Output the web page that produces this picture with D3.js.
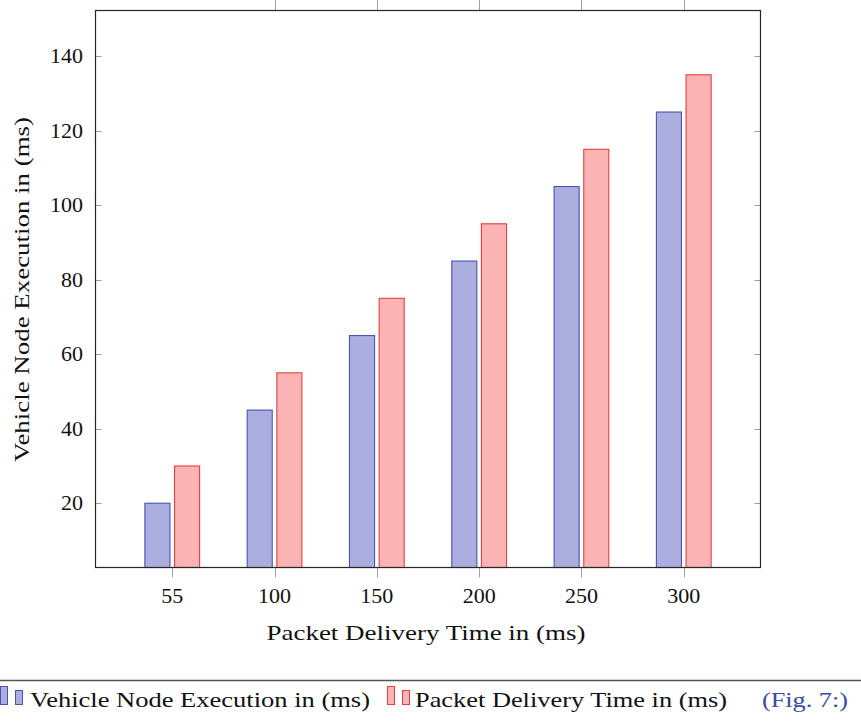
<!DOCTYPE html>
<html>
<head>
<meta charset="utf-8">
<script src="https://cdn.jsdelivr.net/npm/d3@7"></script>
<style>
  html, body { margin: 0; padding: 0; background: #fff; }
  svg { display: block; }
  svg text { font-family: "Liberation Serif", "DejaVu Serif", serif; fill: #111; }
</style>
</head>
<body>
<svg id="chart" width="861" height="721"></svg>
<script>
// ---- data ----
const categories = ["55", "100", "150", "200", "250", "300"];
const vehicleExec = [20, 45, 65, 85, 105, 125];
const packetDelivery = [30, 55, 75, 95, 115, 135];
const yTicks = [20, 40, 60, 80, 100, 120, 140];
const seriesNames = ["Vehicle Node Execution in (ms)", "Packet Delivery Time in (ms)"];
const xTitle = "Packet Delivery Time in (ms)";
const yTitle = "Vehicle Node Execution in (ms)";
const figLabel = "(Fig. 7:)";

// ---- layout ----
const W = 861, H = 721;
const plot = { left: 95.5, right: 760.5, top: 10.5, bottom: 567.5 };
const colors = {
  blueFill: "#adaee0", blueStroke: "#4654b4",
  redFill: "#fbb3b3", redStroke: "#e5403d",
  tick: "#a0a0a0", frame: "#262626", fig: "#3b4aa6"
};

const svg = d3.select("#chart");

const x = d3.scaleLinear().domain([-0.75, categories.length - 0.25]).range([plot.left, plot.right]);
const y = d3.scaleLinear().domain([2.75, 152.25]).range([plot.bottom, plot.top]);

const step = x(1) - x(0);
const barW = step * 0.245;
const gap = step * 0.045;

// bars
const g = svg.append("g");
const series = [
  { vals: vehicleExec, fill: colors.blueFill, stroke: colors.blueStroke, off: -gap / 2 - barW },
  { vals: packetDelivery, fill: colors.redFill, stroke: colors.redStroke, off: gap / 2 }
];
series.forEach(s => {
  g.selectAll(null).data(s.vals).enter().append("rect")
    .attr("x", (d, i) => x(i) + s.off)
    .attr("y", d => y(d))
    .attr("width", barW)
    .attr("height", d => y(y.domain()[0]) - y(d))
    .attr("fill", s.fill)
    .attr("stroke", s.stroke)
    .attr("stroke-width", 1.1);
});

// ticks (y inside left/right)
const tg = svg.append("g").attr("stroke", colors.tick).attr("stroke-width", 1);
yTicks.forEach(t => {
  const yy = Math.round(y(t)) + 0.5;
  tg.append("line").attr("x1", plot.left).attr("x2", plot.left + 6).attr("y1", yy).attr("y2", yy);
  tg.append("line").attr("x1", plot.right - 6).attr("x2", plot.right).attr("y1", yy).attr("y2", yy);
});
// x ticks bottom (outside) and top (outside, from second category)
categories.forEach((c, i) => {
  const xx = Math.round(x(i)) + 0.5;
  tg.append("line").attr("x1", xx).attr("x2", xx).attr("y1", plot.bottom).attr("y2", plot.bottom + 10);
  if (i > 0) tg.append("line").attr("x1", xx).attr("x2", xx).attr("y1", plot.top - 12).attr("y2", plot.top);
});

// frame
svg.append("rect")
  .attr("x", plot.left).attr("y", plot.top)
  .attr("width", plot.right - plot.left).attr("height", plot.bottom - plot.top)
  .attr("fill", "none").attr("stroke", colors.frame).attr("stroke-width", 1.2);

// tick labels
const fs = 21;
function numLabel(sel, w) {
  return sel.attr("font-size", fs).attr("textLength", w).attr("lengthAdjust", "spacingAndGlyphs");
}
svg.append("g").selectAll("text").data(yTicks).enter().append("text")
  .attr("x", 83).attr("y", d => y(d) + 7)
  .attr("text-anchor", "end")
  .each(function(d) { numLabel(d3.select(this), String(d).length * 11); })
  .text(d => d);
svg.append("g").selectAll("text").data(categories).enter().append("text")
  .attr("x", (d, i) => x(i)).attr("y", 603)
  .attr("text-anchor", "middle")
  .each(function(d) { numLabel(d3.select(this), d.length * 11); })
  .text(d => d);

// axis titles
svg.append("text")
  .attr("x", (plot.left + plot.right) / 2 - 2).attr("y", 640)
  .attr("text-anchor", "middle").attr("font-size", fs)
  .attr("textLength", 319).attr("lengthAdjust", "spacingAndGlyphs")
  .text(xTitle);
svg.append("text")
  .attr("transform", "translate(29,289.5) rotate(-90)")
  .attr("text-anchor", "middle").attr("font-size", fs)
  .attr("textLength", 345).attr("lengthAdjust", "spacingAndGlyphs")
  .text(yTitle);

// legend separator
svg.append("line").attr("x1", 0).attr("x2", W).attr("y1", 680.5).attr("y2", 680.5)
  .attr("stroke", "#555").attr("stroke-width", 1.3);

// legend
const leg = svg.append("g");
function icon(x0, fill, stroke) {
  leg.append("rect").attr("x", x0 + 0.5).attr("y", 686.5).attr("width", 7).attr("height", 18)
    .attr("fill", fill).attr("stroke", stroke).attr("stroke-width", 1);
  leg.append("rect").attr("x", x0 + 15.5).attr("y", 690.5).attr("width", 7).attr("height", 14)
    .attr("fill", fill).attr("stroke", stroke).attr("stroke-width", 1);
}
icon(0, colors.blueFill, colors.blueStroke);
icon(387, colors.redFill, colors.redStroke);
leg.append("text").attr("x", 30).attr("y", 707).attr("font-size", fs)
  .attr("textLength", 340).attr("lengthAdjust", "spacingAndGlyphs").text(seriesNames[0]);
leg.append("text").attr("x", 415).attr("y", 707).attr("font-size", fs)
  .attr("textLength", 312).attr("lengthAdjust", "spacingAndGlyphs").text(seriesNames[1]);
leg.append("text").attr("x", 762).attr("y", 707).attr("font-size", fs)
  .attr("textLength", 86).attr("lengthAdjust", "spacingAndGlyphs")
  .style("fill", colors.fig).text(figLabel);
</script>
</body>
</html>
